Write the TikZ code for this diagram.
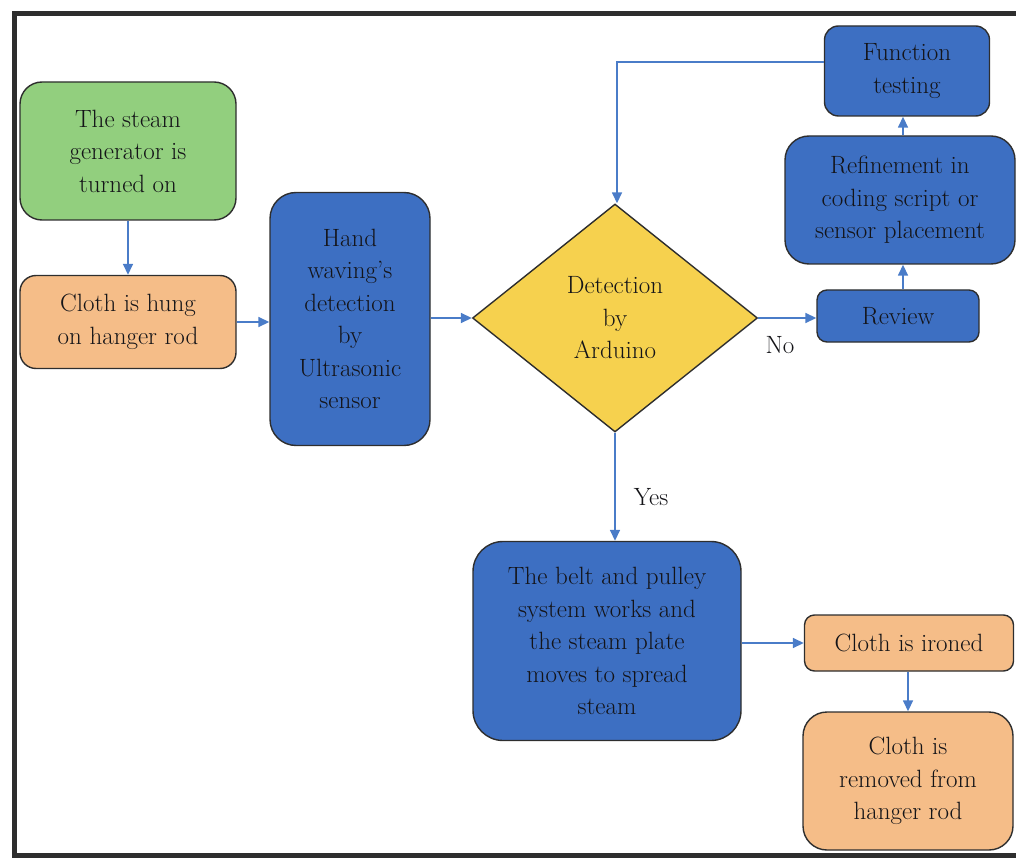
\documentclass[tikz,border=0pt]{standalone}
\usetikzlibrary{shapes.geometric,arrows.meta}
\definecolor{gfill}{HTML}{92CF7E}
\definecolor{ofill}{HTML}{F5BD88}
\definecolor{bfill}{HTML}{3D6FC2}
\definecolor{yfill}{HTML}{F6D14E}
\definecolor{arr}{HTML}{4A7CC8}
\definecolor{edge}{HTML}{2E2E2E}
\definecolor{txt}{HTML}{141418}
\tikzset{
  box/.style={draw=edge, line width=1.4pt, rounded corners=#1, align=center,
    text=txt, font=\fontsize{25}{32.5}\selectfont, inner sep=0pt},
  box/.default=22pt,
  conn/.style={draw=arr, line width=1.6pt, -{Triangle[length=11pt,width=10pt]}},
  lbl/.style={text=txt, font=\fontsize{25}{30}\selectfont}
}
\begin{document}
\begin{tikzpicture}[x=1pt,y=-1pt]
\useasboundingbox (0,0) rectangle (1016,858);
\draw[draw=edge, line width=5pt] (1020,14) -- (14,14) -- (14,855) -- (1020,855);

\node[box, fill=gfill, minimum width=216pt, minimum height=138pt] (gen) at (128,151) {The steam\\generator is\\turned on};
\node[box=16pt, fill=ofill, minimum width=216pt, minimum height=93pt] (hung) at (128,322) {Cloth is hung\\on hanger rod};
\node[box=26pt, fill=bfill, minimum width=160pt, minimum height=253pt] (hand) at (350,319) {Hand\\waving’s\\detection\\by\\Ultrasonic\\sensor};
\node[draw=edge, line width=1.4pt, diamond, fill=yfill, aspect=1.25, inner sep=0pt,
  minimum width=285pt, minimum height=228pt, align=center, text=txt,
  font=\fontsize{25}{32.5}\selectfont] (det) at (615,318) {Detection\\by\\Arduino};
\node[box=10pt, fill=bfill, minimum width=162pt, minimum height=52pt] (rev) at (898,316) {Review};
\node[box=24pt, fill=bfill, minimum width=230pt, minimum height=128pt] (ref) at (900,200) {Refinement in\\coding script or\\sensor placement};
\node[box=14pt, fill=bfill, minimum width=165pt, minimum height=90pt] (fun) at (907,71) {Function\\testing};
\node[box=30pt, fill=bfill, minimum width=268pt, minimum height=199pt] (belt) at (607,641) {The belt and pulley\\system works and\\the steam plate\\moves to spread\\steam};
\node[box=10pt, fill=ofill, minimum width=209pt, minimum height=56pt] (iron) at (909,643) {Cloth is ironed};
\node[box=24pt, fill=ofill, minimum width=210pt, minimum height=138pt] (rem) at (908,781) {Cloth is\\removed from\\hanger rod};

\draw[conn] (gen.south) -- (hung.north);
\draw[conn] (hung.east) -- (hung.east -| hand.west);
\draw[conn] (hand.east |- det.west) -- (det.west);
\draw[conn] (det.east) -- (det.east -| rev.west);
\node[lbl] (no) at (780,345) {No};
\draw[conn] (rev.north -| 903,0) -- (ref.south -| 903,0);
\draw[conn] (ref.north -| 903,0) -- (fun.south -| 903,0);
\coordinate (bend) at (617,62);
\draw[conn] (fun.west |- bend) -- (bend) -- (det.north -| bend);
\draw[conn] (det.south) -- (det.south |- belt.north);
\node[lbl] (yes) at (651,497) {Yes};
\draw[conn] (belt.east |- iron.west) -- (iron.west);
\draw[conn] (iron.south -| 908,0) -- (rem.north -| 908,0);
\end{tikzpicture}
\end{document}
